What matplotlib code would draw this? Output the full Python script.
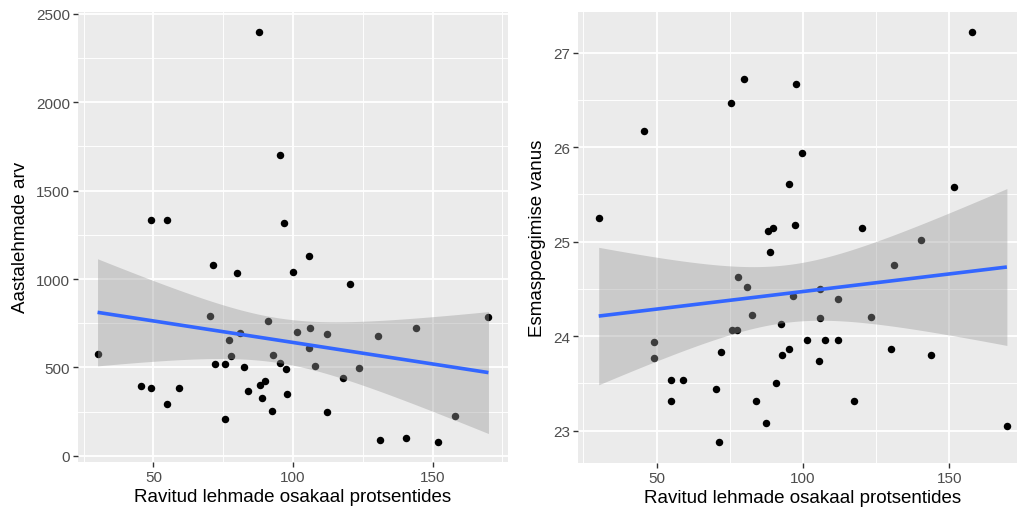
import numpy as np
import matplotlib
matplotlib.use("Agg")
import matplotlib.pyplot as plt
from matplotlib.ticker import MultipleLocator

plt.rcParams["font.family"] = ["Liberation Sans", "DejaVu Sans"]

# vasak paneel: ravitud lehmade osakaal vs aastalehmade arv
x_left = [30.0, 45.7, 49.0, 54.8, 59.1, 71.2, 70.2, 72.0, 75.7, 75.8, 77.2, 77.9,
          79.8, 80.9, 82.5, 84.0, 49.3, 54.9, 87.8, 95.5, 96.7, 105.7, 99.9, 120.3,
          91.1, 101.6, 106.1, 112.2, 130.4, 143.9, 170.0, 105.9, 93.0, 95.2, 97.5,
          107.7, 123.5, 117.8, 88.3, 89.9, 89.0, 97.9, 92.6, 112.2, 158.1, 131.3,
          140.3, 151.9]
y_left = [578, 397, 384, 294, 386, 1079, 791, 521, 211, 521, 655, 566,
          1033, 697, 502, 365, 1331, 1331, 2397, 1704, 1316, 1131, 1039, 969,
          760, 700, 723, 687, 678, 723, 783, 608, 572, 527, 491,
          508, 499, 442, 399, 424, 329, 350, 256, 248, 224, 90,
          103, 81]

# parem paneel: ravitud lehmade osakaal vs esmaspoegimise vanus
x_right = [30.2, 45.7, 75.5, 79.8, 87.9, 88.7, 157.8, 97.7, 99.8, 95.1, 151.5, 89.7,
           97.3, 120.2, 140.2, 77.9, 81.0, 82.5, 75.6, 77.3, 49.2, 49.0, 72.0, 54.8,
           59.0, 70.2, 54.8, 83.9, 87.5, 71.2, 131.0, 105.8, 96.6, 112.0, 105.9,
           123.3, 92.5, 101.3, 107.5, 112.0, 130.2, 95.3, 92.8, 143.6, 105.6, 90.9,
           117.6, 169.7]
y_right = [25.246, 26.165, 26.461, 26.725, 25.116, 24.887, 27.217, 26.668, 25.936,
           25.609, 25.574, 25.147, 25.18, 25.147, 25.02, 24.623, 24.524, 24.228,
           24.063, 24.063, 23.937, 23.768, 23.834, 23.539, 23.539, 23.44, 23.31,
           23.31, 23.077, 22.88, 24.753, 24.5, 24.426, 24.394, 24.194, 24.207,
           24.13, 23.96, 23.964, 23.964, 23.866, 23.866, 23.803, 23.803, 23.736,
           23.507, 23.31, 23.05]

xlabel = "Ravitud lehmade osakaal protsentides"
T_975 = 2.0129  # t(0.975, df=46)


def lm_band(x, y, n=80):
    x = np.asarray(x, float)
    y = np.asarray(y, float)
    b, a = np.polyfit(x, y, 1)
    xs = np.linspace(x.min(), x.max(), n)
    fit = a + b * xs
    resid = y - (a + b * x)
    s = np.sqrt(np.sum(resid ** 2) / (len(x) - 2))
    se = s * np.sqrt(1 / len(x) + (xs - x.mean()) ** 2 / np.sum((x - x.mean()) ** 2))
    return xs, fit, fit - T_975 * se, fit + T_975 * se


def expand(v, f=0.05):
    lo, hi = min(v), max(v)
    d = (hi - lo) * f
    return lo - d, hi + d


def gg_panel(ax, x, y, ylabel, ymajor):
    ax.set_facecolor("#EBEBEB")
    for s in ax.spines.values():
        s.set_visible(False)
    ax.scatter(x, y, s=29, color="black", linewidths=0, zorder=3)
    xs, fit, lo, hi = lm_band(x, y)
    ax.fill_between(xs, lo, hi, color="#999999", alpha=0.4, linewidth=0, zorder=4)
    ax.plot(xs, fit, color="#3366FF", lw=2.6, zorder=5, solid_capstyle="butt")
    ax.set_xlim(expand(x))
    ax.set_ylim(expand(y))
    ax.xaxis.set_major_locator(MultipleLocator(50))
    ax.xaxis.set_minor_locator(MultipleLocator(25))
    ax.yaxis.set_major_locator(MultipleLocator(ymajor))
    ax.yaxis.set_minor_locator(MultipleLocator(ymajor / 2))
    ax.grid(which="major", color="white", lw=1.3, zorder=0)
    ax.grid(which="minor", color="white", lw=0.65, zorder=0)
    ax.set_axisbelow(True)
    ax.tick_params(which="major", length=3.3, width=1.0, color="#333333",
                   labelcolor="#4D4D4D", labelsize=11, pad=2.5)
    ax.tick_params(which="minor", length=0)
    ax.set_xlabel(xlabel, fontsize=13.5, labelpad=3)
    ax.set_ylabel(ylabel, fontsize=13.5, labelpad=5)


W, H = 1017, 510
fig = plt.figure(figsize=(W / 100, H / 100), dpi=100)

ax1 = fig.add_axes([78 / W, 47 / H, 430 / W, 450.5 / H])
gg_panel(ax1, x_left, y_left, "Aastalehmade arv", 500)

# parem paneel on originaalis paremalt poolt ära lõigatud
ax2 = fig.add_axes([578.3 / W, 46.5 / H, 449 / W, 451 / H])
gg_panel(ax2, x_right, y_right, "Esmaspoegimise vanus", 1)

fig.savefig("out.png", dpi=100)
